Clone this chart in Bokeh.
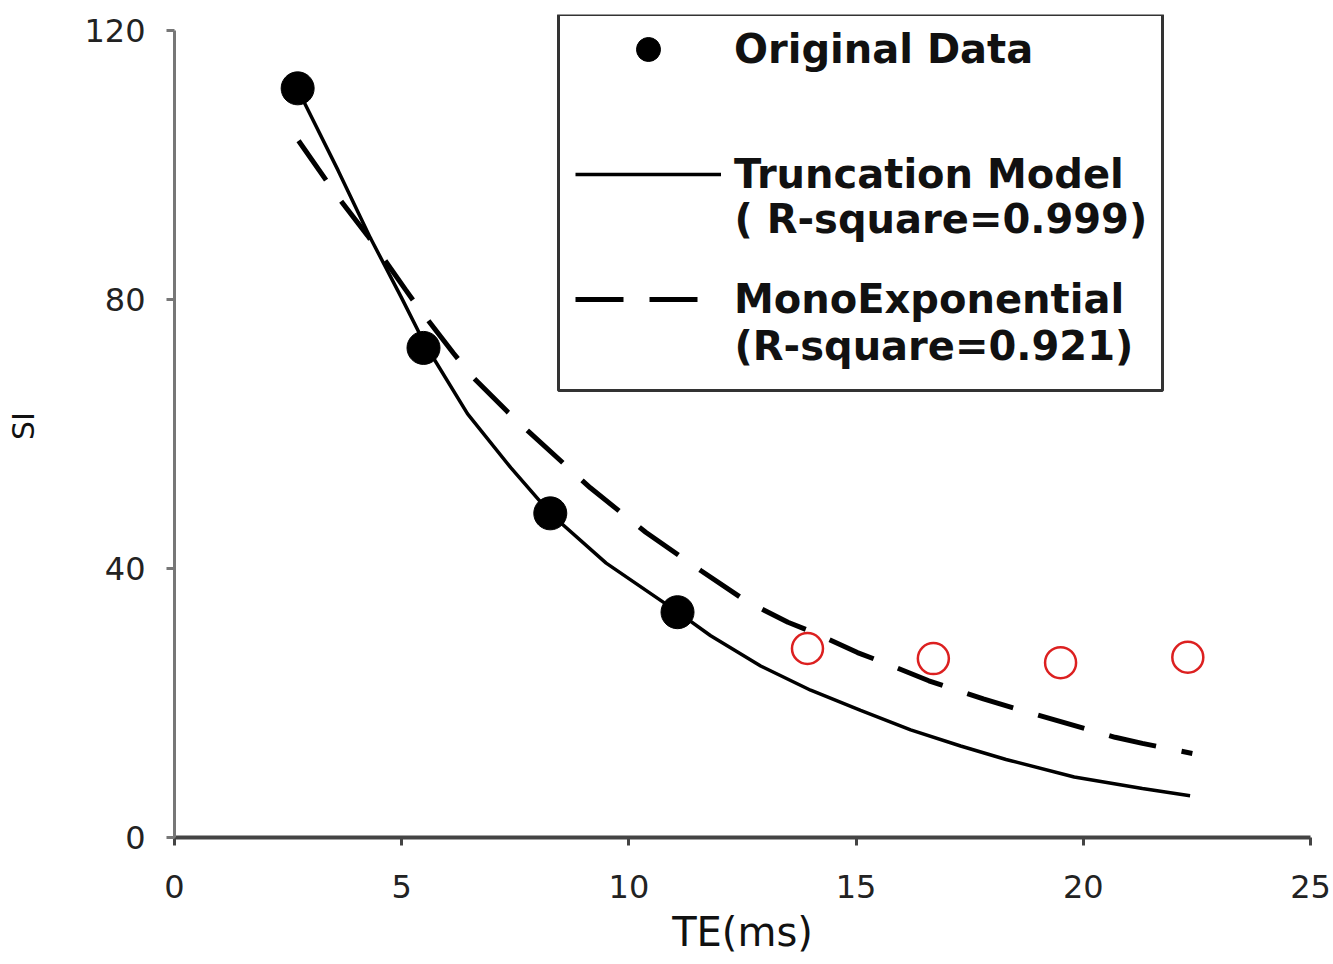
from bokeh.plotting import figure
from bokeh.models import Range1d, Legend, LegendItem, FixedTicker, BoxAnnotation, Label
from bokeh.embed import file_html
from bokeh.resources import INLINE

# Data
te_fit = [2.71, 5.48, 8.27, 11.07]
si_fit = [111.4, 72.8, 48.2, 33.5]
te_excl = [13.93, 16.7, 19.5, 22.3]
si_excl = [28.1, 26.6, 26.0, 26.8]

trunc_te = [2.7, 3.6, 4.3, 5.0, 5.5, 6.45, 7.4, 8.3, 9.5, 11.1, 11.8, 12.9, 14.0,
            15.1, 16.2, 17.3, 18.3, 19.8, 21.3, 22.35]
trunc_si = [111.4, 99.2, 89.3, 80.2, 73.5, 63.0, 55.0, 48.0, 40.8, 33.4, 30.0, 25.5, 21.9,
            18.9, 16.0, 13.6, 11.6, 9.0, 7.3, 6.2]

mono_te = [2.73, 3.6, 4.25, 5.08, 5.41, 6.14, 6.56, 7.33, 7.77, 9.15, 10.37, 11.58, 12.57,
           13.5, 14.06, 15.03, 15.65, 16.6, 17.8, 18.5, 20.7, 21.3, 22.4]
mono_si = [103.6, 95.2, 89.5, 81.5, 78.4, 72.0, 68.5, 63.3, 60.5, 52.0, 45.4, 39.7, 35.2,
           32.0, 30.5, 27.5, 25.9, 23.3, 20.6, 19.2, 14.9, 14.0, 12.5]

x_ticks = [0, 5, 10, 15, 20, 25]
y_ticks = [0, 40, 80, 120]

legend_names = ["Original Data", "Truncation Model", "MonoExponential"]
legend_notes = ["( R-square=0.999)", "(R-square=0.921)"]
x_title = "TE(ms)"
y_title = "SI"

# ---- layout (pixels) ----
W, H = 1333, 964
FL, FR, FT, FB = 174, 1310, 14, 837          # frame edges
X0, X1 = 0, 25
PX_PER_Y = 6.725
Y1 = (FB - FT) / PX_PER_Y                     # top of y range (120 sits at y=30 px)


def dx(px):
    return X0 + (px - FL) * (X1 - X0) / (FR - FL)


def dy(py):
    return (FB - py) / PX_PER_Y


p = figure(width=W, height=H, output_backend="svg", toolbar_location=None,
           x_range=Range1d(X0, X1), y_range=Range1d(0, Y1),
           min_border_left=FL, min_border_right=W - FR, min_border_top=FT,
           min_border_bottom=H - FB)
p.outline_line_color = None
p.xgrid.visible = False
p.ygrid.visible = False

r_trunc = p.line(trunc_te, trunc_si, line_color="black", line_width=3.5)
r_mono = p.line(mono_te, mono_si, line_color="black", line_width=5, line_dash="48 26")
r_orig = p.scatter(te_fit, si_fit, size=33, marker="circle", fill_color="black", line_color="black")
p.scatter(te_excl, si_excl, size=31, marker="circle", fill_color=None, line_color="#dc2020", line_width=2.5)

for ax in (p.xaxis[0], p.yaxis[0]):
    ax.major_label_text_font = "DejaVu Sans"
    ax.major_label_text_font_size = "32px"
    ax.major_label_text_color = "#222222"
    ax.axis_label_text_font = "DejaVu Sans"
    ax.axis_label_text_font_style = "normal"
    ax.axis_label_text_color = "#111111"
    ax.minor_tick_line_color = None
    ax.major_tick_in = 0
    ax.major_tick_out = 8

xa = p.xaxis[0]
xa.ticker = FixedTicker(ticks=x_ticks)
xa.bounds = (0, 25)
xa.axis_line_color = "#444444"
xa.axis_line_width = 4
xa.major_tick_line_color = "#444444"
xa.major_tick_line_width = 3
xa.major_label_standoff = 29
xa.axis_label = x_title
xa.axis_label_text_font_size = "40px"
xa.axis_label_standoff = 8

ya = p.yaxis[0]
ya.ticker = FixedTicker(ticks=y_ticks)
ya.bounds = (0, 120)
ya.axis_line_color = "#777777"
ya.axis_line_width = 3
ya.major_tick_line_color = "#777777"
ya.major_tick_line_width = 3
ya.major_label_standoff = 21
ya.axis_label = y_title
ya.axis_label_text_font_size = "30px"
ya.axis_label_standoff = 40

# legend frame
box = BoxAnnotation(left=dx(558), right=dx(1162), top=dy(14), bottom=dy(390),
                    fill_color="white", fill_alpha=1.0, line_color="#333333",
                    line_alpha=1.0, line_width=3)
p.add_layout(box)

PAD, G, SP = 6, 60, 65
legend = Legend(items=[
    LegendItem(label=legend_names[0], renderers=[r_orig]),
    LegendItem(label=legend_names[1], renderers=[r_trunc]),
    LegendItem(label=legend_names[2], renderers=[r_mono]),
], location=(401, 508))
legend.label_text_font = "DejaVu Sans"
legend.label_text_font_style = "bold"
legend.label_text_font_size = "40px"
legend.label_text_color = "#111111"
legend.glyph_width = 146
legend.glyph_height = G
legend.label_height = 40
legend.label_standoff = 13
legend.padding = PAD
legend.spacing = SP
legend.margin = 0
legend.border_line_color = None
legend.background_fill_alpha = 0.0
p.add_layout(legend)

for note, py in zip(legend_notes, [218, 345]):
    p.add_layout(Label(x=dx(734), y=dy(py), text=note, text_baseline="middle",
                       text_font="DejaVu Sans", text_font_style="bold",
                       text_font_size="40px", text_color="#111111"))

open("out.html", "w").write(file_html(p, INLINE))
